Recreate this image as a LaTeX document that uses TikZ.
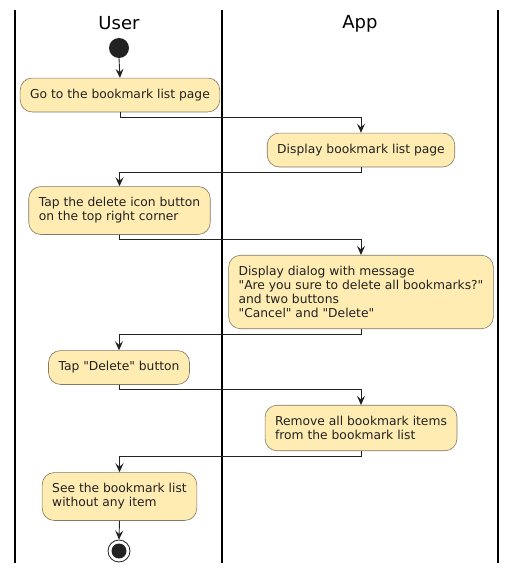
\documentclass[tikz,border=0pt]{standalone}
\usepackage{fontspec}
\setmainfont{DejaVu Sans}
\newfontfamily\actfont[Ligatures=ResetAll]{DejaVu Sans}
\usetikzlibrary{arrows.meta}
\definecolor{actfill}{RGB}{254,236,178}
\definecolor{actdraw}{RGB}{130,120,100}
\definecolor{ink}{RGB}{34,34,34}
\begin{document}
\begin{tikzpicture}[x=1pt,y=-1pt,
  act/.style={draw=actdraw, fill=actfill, rounded corners=12pt, align=left,
    inner xsep=10pt, inner ysep=11pt, font=\actfont\fontsize{12.3}{14}\selectfont, text=ink, line width=0.6pt},
  lane/.style={line width=1.2pt, black},
  hdr/.style={font=\fontsize{18}{20}\selectfont, text=black},
  arr/.style={draw=ink, line width=0.9pt, -{Stealth[length=9pt,width=8pt,inset=3.5pt]}}
]
\useasboundingbox (0,0) rectangle (517,573);
% swimlanes
\draw[lane] (15,10) -- (15,563);
\draw[lane] (222,10) -- (222,563);
\draw[lane] (498,10) -- (498,563);
\node[hdr] (huser) at (119,23.5) {User};
\node[hdr] (happ) at (360,23.5) {App};
% start
\node[circle, fill=ink, inner sep=0pt, minimum size=20pt] (start) at (119,48) {};
% activities
\node[act] (b1) at (120,95) {Go to the bookmark list page};
\node[act] (b2) at (361,150) {Display bookmark list page};
\node[act] (b3) at (119.5,210.5) {Tap the delete icon button\\on the top right corner};
\node[act] (b4) at (361,292) {Display dialog with message\\"Are you sure to delete all bookmarks?"\\and two buttons\\"Cancel" and "Delete"};
\node[act] (b5) at (119,367.5) {Tap "Delete" button};
\node[act] (b6) at (361,428) {Remove all bookmark items\\from the bookmark list};
\node[act] (b7) at (119.5,496.5) {See the bookmark list\\without any item};
% end
\node[circle, draw=ink, fill=white, line width=0.8pt, inner sep=0pt, minimum size=22pt] (stop) at (119,551) {};
\fill[ink] (stop.center) circle (7.5pt);
% connectors
\draw[arr] (start.south) -- (b1.north);
\draw[arr] (b1.south) -- ++(0,5) -| (b2.north);
\draw[arr] (b2.south) -- ++(0,5) -| (b3.north);
\draw[arr] (b3.south) -- ++(0,5) -| (b4.north);
\draw[arr] (b4.south) -- ++(0,5) -| (b5.north);
\draw[arr] (b5.south) -- ++(0,5) -| (b6.north);
\draw[arr] (b6.south) -- ++(0,5) -| (b7.north);
\draw[arr] (b7.south) -- (stop.north);
\end{tikzpicture}
\end{document}
